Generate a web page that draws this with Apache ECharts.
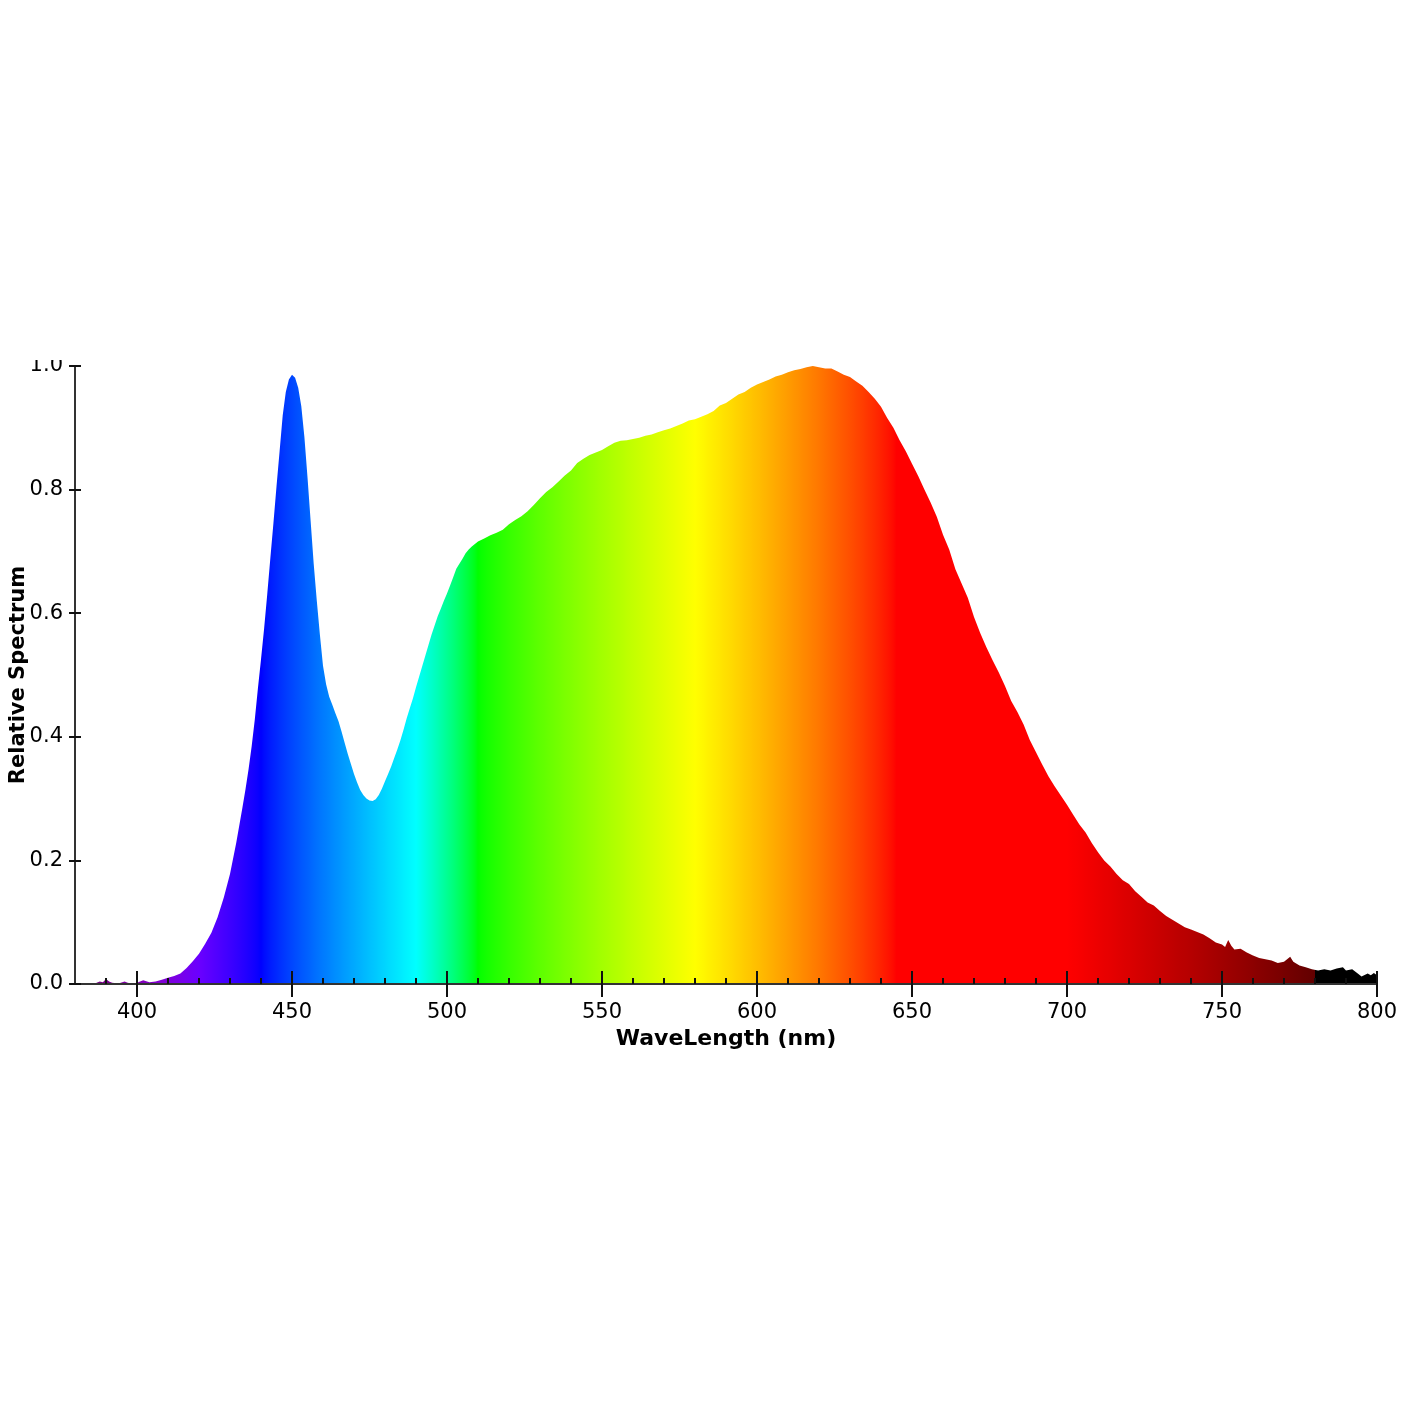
<!DOCTYPE html>
<html><head><meta charset="utf-8">
<script src="https://cdn.jsdelivr.net/npm/echarts@6/dist/echarts.min.js"></script>
<style>html,body{margin:0;padding:0;background:#fff}#c{width:1420px;height:1420px}</style>
</head><body><div id="c"></div>
<script>
const wavelengths = [386,387,388,389,390,391,392,394,396,397,399,401,402,404,406,408,410,412,414,416,418,420,422,424,426,428,430,432,434,435,436,437,438,439,440,441,442,443,444,445,446,447,448,449,450,451,452,453,454,455,456,457,458,459,460,461,462,463,464,465,466,467,468,469,470,471,472,473,474,475,476,477,478,479,480,481,482,483,484,485,486,487,488,489,490,491,492,493,494,495,496,497,498,499,500,501,502,503,504,505,506,507,508,509,510,512,514,516,518,520,522,524,526,528,530,532,534,536,538,540,542,544,546,548,550,552,554,556,558,560,562,564,566,568,570,572,574,576,578,580,582,584,586,588,590,592,594,596,598,600,602,604,606,608,610,612,614,616,618,620,622,624,626,628,630,632,634,636,638,640,642,644,646,648,650,652,654,656,658,660,662,664,666,668,670,672,674,676,678,680,682,684,686,688,690,692,694,696,698,700,702,704,706,708,710,712,714,716,718,720,722,724,726,728,730,732,734,736,738,740,742,744,746,748,750,751,752,753,754,756,758,760,762,764,766,768,770,771,772,773,775,777,779,781,783,785,787,789,790,792,794,795,797,798,799,800];
const relative = [0.000,0.002,0.004,0.003,0.008,0.004,0.002,0.001,0.004,0.002,0.000,0.004,0.006,0.003,0.004,0.007,0.010,0.013,0.017,0.026,0.037,0.049,0.065,0.083,0.108,0.140,0.178,0.228,0.285,0.315,0.348,0.385,0.428,0.478,0.525,0.575,0.630,0.688,0.745,0.805,0.862,0.920,0.958,0.978,0.986,0.981,0.965,0.935,0.885,0.820,0.750,0.680,0.620,0.565,0.515,0.485,0.465,0.452,0.438,0.425,0.408,0.390,0.372,0.356,0.340,0.326,0.314,0.306,0.300,0.297,0.296,0.299,0.306,0.316,0.328,0.340,0.352,0.366,0.380,0.395,0.412,0.430,0.446,0.462,0.480,0.497,0.514,0.531,0.548,0.565,0.580,0.595,0.607,0.620,0.632,0.645,0.658,0.672,0.680,0.688,0.697,0.703,0.708,0.712,0.716,0.721,0.726,0.730,0.735,0.744,0.751,0.757,0.765,0.775,0.786,0.796,0.804,0.813,0.823,0.831,0.843,0.850,0.856,0.860,0.864,0.870,0.876,0.879,0.880,0.882,0.884,0.887,0.889,0.893,0.896,0.899,0.903,0.907,0.912,0.914,0.918,0.922,0.927,0.936,0.940,0.947,0.954,0.958,0.965,0.970,0.974,0.978,0.983,0.986,0.990,0.993,0.995,0.998,1.000,0.998,0.996,0.996,0.991,0.986,0.982,0.975,0.968,0.958,0.947,0.934,0.916,0.900,0.880,0.862,0.842,0.822,0.800,0.779,0.756,0.727,0.703,0.671,0.648,0.625,0.594,0.568,0.545,0.524,0.504,0.482,0.458,0.440,0.420,0.395,0.375,0.355,0.336,0.320,0.305,0.290,0.274,0.258,0.245,0.228,0.213,0.200,0.190,0.178,0.168,0.162,0.150,0.141,0.132,0.127,0.118,0.110,0.104,0.098,0.092,0.088,0.084,0.080,0.074,0.067,0.064,0.060,0.071,0.062,0.056,0.057,0.051,0.046,0.042,0.040,0.038,0.034,0.036,0.040,0.044,0.036,0.030,0.027,0.024,0.022,0.024,0.022,0.025,0.027,0.022,0.024,0.016,0.012,0.017,0.014,0.018,0.014];
const majorTicks = [400,450,500,550,600,650,700,750,800];
const minorTicks = [390,410,420,430,440,460,470,480,490,510,520,530,540,560,570,580,590,610,620,630,640,660,670,680,690,710,720,730,740,760,770,780,790];
const xMin = 380, xMax = 800;

function spectralColor(w){
  let r=0,g=0,b=0;
  if (w<440){ r=-(w-440)/60; b=1; }
  else if (w<490){ g=(w-440)/50; b=1; }
  else if (w<510){ g=1; b=-(w-510)/20; }
  else if (w<580){ r=(w-510)/70; g=1; }
  else if (w<645){ r=1; g=-(w-645)/65; }
  else if (w<=780){ r=1; }
  let f=0;
  if (w<420) f=0.3+0.7*(w-380)/40;
  else if (w<=700) f=1;
  else if (w<=780) f=0.3+0.7*(780-w)/80;
  const c = v => v<=0 ? 0 : Math.round(255*Math.pow(v*f,0.8));
  return 'rgb('+c(r)+','+c(g)+','+c(b)+')';
}

const FONT = 'DejaVu Sans';
const chart = echarts.init(document.getElementById('c'), null, {renderer:'canvas'});
const commonX = {type:'value', min:xMin, max:xMax, splitLine:{show:false}, z:5, position:'bottom', offset:0};
const option = {
  animation:false,
  backgroundColor:'#fff',
  grid:{left:75, right:43, top:366, bottom:436, containLabel:false, outerBoundsMode:'none'},
  xAxis:[
    Object.assign({}, commonX, {
      name:'WaveLength (nm)', nameLocation:'middle', nameGap:44, nameMoveOverlap:false,
      nameTextStyle:{fontFamily:FONT, fontSize:22, fontWeight:'bold', color:'#000'},
      axisLine:{show:true, lineStyle:{color:'#333', width:2}},
      axisTick:{show:true, inside:false, length:13, customValues:majorTicks, lineStyle:{color:'#111', width:2}},
      axisLabel:{show:true, customValues:majorTicks, margin:18, fontFamily:FONT, fontSize:21, color:'#000'}
    }),
    Object.assign({}, commonX, {
      axisLine:{show:false},
      axisTick:{show:true, inside:true, length:13, customValues:majorTicks, lineStyle:{color:'#111', width:2}},
      axisLabel:{show:false}
    }),
    Object.assign({}, commonX, {
      axisLine:{show:false},
      axisTick:{show:true, inside:true, length:6, customValues:minorTicks, lineStyle:{color:'#111', width:2}},
      axisLabel:{show:false}
    })
  ],
  yAxis:[
    {type:'value', min:0, max:1, interval:0.2, position:'left', offset:0, z:5,
     name:'Relative Spectrum', nameLocation:'middle', nameGap:46, nameMoveOverlap:false,
     nameTextStyle:{fontFamily:FONT, fontSize:21, fontWeight:'bold', color:'#000'},
     splitLine:{show:false},
     axisLine:{show:true, lineStyle:{color:'#333', width:2}},
     axisTick:{show:true, inside:false, length:6, lineStyle:{color:'#111', width:2}},
     axisLabel:{show:true, margin:12, fontFamily:FONT, fontSize:21, color:'#000', formatter:v=>v.toFixed(1)}},
    {type:'value', min:0, max:1, interval:0.2, position:'left', offset:0, z:5,
     splitLine:{show:false}, axisLine:{show:false},
     axisTick:{show:true, inside:true, length:6, lineStyle:{color:'#111', width:2}},
     axisLabel:{show:false}}
  ],
  graphic:[{type:'rect', left:0, top:330, shape:{width:70, height:30}, style:{fill:'#fff'}, z:100}],
  series:[{
    type:'line', xAxisIndex:0, yAxisIndex:0, z:1,
    data: wavelengths.map((w,i)=>[w, relative[i]]),
    showSymbol:false, symbol:'none', smooth:false,
    lineStyle:{width:0, opacity:0},
    areaStyle:{color:'#888', opacity:1}
  }]
};
chart.setOption(option);
const px0 = chart.convertToPixel({xAxisIndex:0}, xMin);
const px1 = chart.convertToPixel({xAxisIndex:0}, xMax);
const stops = [];
for (let w=xMin; w<=xMax; w+=1){
  stops.push({offset:(w-xMin)/(xMax-xMin), color:spectralColor(w)});
  if (w===780) stops.push({offset:(780.05-xMin)/(xMax-xMin), color:'rgb(0,0,0)'});
}
chart.setOption({series:[{areaStyle:{color:new echarts.graphic.LinearGradient(px0,0,px1,0,stops,true), opacity:1}}]});
</script></body></html>
